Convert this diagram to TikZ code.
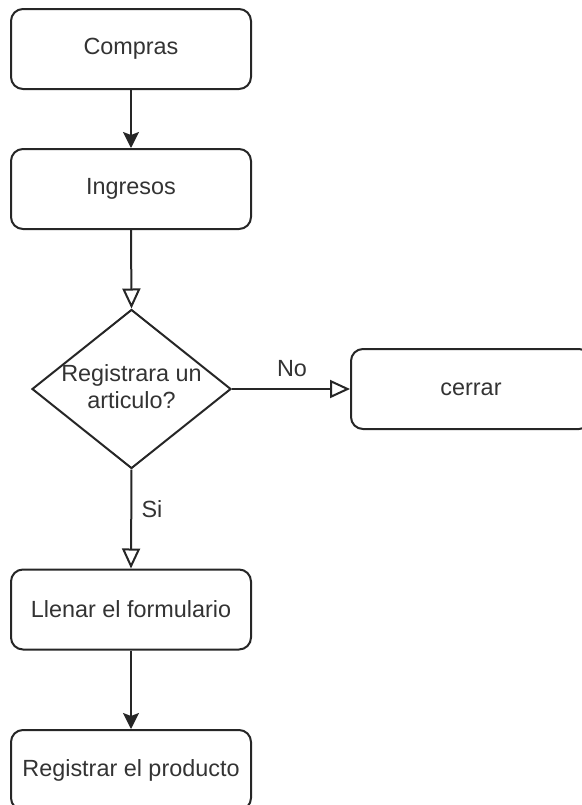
\documentclass[tikz,border=0pt]{standalone}
\usepackage{fontspec}
\setmainfont{Liberation Sans}
\usetikzlibrary{arrows.meta,shapes.geometric}
\tikzset{
  stepbox/.style={draw=black!85, line width=1pt, rounded corners=6pt,
    minimum width=120pt, minimum height=40pt, inner sep=0pt,
    font=\fontsize{11.7}{13.5}\selectfont, text=black!80},
  decision/.style={draw=black!85, line width=1pt, diamond, aspect=1.25,
    minimum width=99.5pt, minimum height=79.5pt, inner sep=0pt},
  flow/.style={draw=black!85, line width=1pt,
    -{Stealth[length=8pt,width=8pt,inset=1.5pt]}},
  openflow/.style={draw=black!85, line width=1pt,
    -{Triangle[open,length=10pt,width=9pt,fill=white]}},
  lbl/.style={font=\fontsize{11.7}{13.5}\selectfont, text=black!80, inner sep=0pt}
}
\begin{document}
\begin{tikzpicture}[x=0.5pt,y=-0.5pt]
  \clip (0,0) rectangle (582,805);
  \node[stepbox] (compras) at (131,49) {Compras};
  \node[stepbox] (ingresos) at (131,189) {Ingresos};
  \node[decision] (dec) at (131.5,389) {};
  \node[lbl, align=center] (dectext) at (131.5,387) {Registrara un\\articulo?};
  \node[stepbox] (cerrar) at (471,389) {cerrar};
  \node[stepbox] (llenar) at (131,609.5) {Llenar el formulario};
  \node[stepbox] (registrar) at (131,770) {Registrar el producto};

  \draw[flow] (compras) -- (ingresos);
  \draw[openflow] (ingresos.south) -- (dec.north);
  \draw[openflow] (dec.east) -- (cerrar.west);
  \draw[openflow] (dec.south) -- (llenar.north);
  \draw[flow] (llenar) -- (registrar);

  \node[lbl] (nolbl) at (292,369) {No};
  \node[lbl] (silbl) at (152,509) {Si};
\end{tikzpicture}
\end{document}
